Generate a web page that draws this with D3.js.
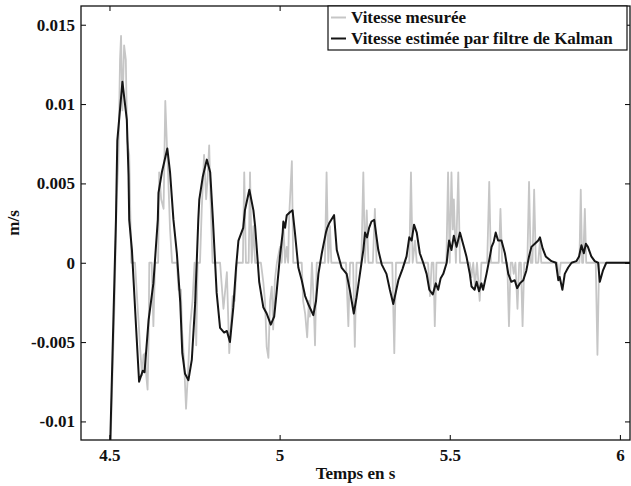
<!DOCTYPE html>
<html>
<head>
<meta charset="utf-8">
<script src="https://cdn.jsdelivr.net/npm/d3@7/dist/d3.min.js"></script>
<style>
  body { margin: 0; background: #fff; }
  text { font-family: "Liberation Serif", "Times New Roman", serif; font-weight: bold; }
</style>
</head>
<body>
<div id="chart"></div>
<script>
const xTicks = [4.5, 5, 5.5, 6];
const xTickLabels = ["4.5", "5", "5.5", "6"];
const yTicks = [0.015, 0.01, 0.005, 0, -0.005, -0.01];
const yTickLabels = ["0.015", "0.01", "0.005", "0", "-0.005", "-0.01"];
const seriesNames = ["Vitesse mesurée", "Vitesse estimée par filtre de Kalman"];

// measured speed [t (s), v (m/s)]
const measured = [
  [4.501,-0.0131],[4.515,-0.0024],[4.521,0.0040],[4.526,0.0063],[4.531,0.0128],[4.534,0.0143],
  [4.538,0.0096],[4.543,0.0137],[4.548,0.0128],[4.552,0.0077],[4.558,0.0068],[4.564,0],
  [4.570,0],[4.575,0],[4.583,-0.0029],[4.587,-0.0042],[4.590,-0.0054],[4.596,-0.0071],
  [4.600,-0.0058],[4.605,-0.0057],[4.608,-0.0071],[4.612,-0.0080],[4.615,-0.0048],[4.617,0],
  [4.624,0],[4.629,-0.0040],[4.634,0],[4.643,0],[4.646,0.0057],[4.652,0.0040],
  [4.659,0.0034],[4.664,0.0102],[4.669,0.0073],[4.672,0.0058],[4.678,0.0021],[4.684,0],
  [4.698,0],[4.703,-0.0017],[4.710,-0.0017],[4.713,-0.0042],[4.719,-0.0061],[4.725,-0.0092],
  [4.731,-0.0068],[4.737,-0.0040],[4.744,-0.0024],[4.750,0],[4.755,-0.0052],[4.759,0],
  [4.766,0],[4.771,0.0033],[4.778,0.0068],[4.784,0.0040],[4.788,0.0052],[4.793,0.0074],
  [4.797,0.0040],[4.803,0],[4.825,0],[4.835,-0.0029],[4.845,-0.0006],[4.852,-0.0057],
  [4.862,-0.0021],[4.868,-0.0024],[4.874,0],[4.892,0],[4.896,0.0057],[4.901,0],
  [4.909,0],[4.913,0.0057],[4.918,0],[4.923,0.0023],[4.928,0],[4.945,0],
  [4.952,-0.0012],[4.957,-0.0024],[4.962,-0.0053],[4.967,-0.0060],[4.972,-0.0024],[4.977,-0.0015],
  [4.981,-0.0042],[4.986,-0.0011],[4.992,0],[5.001,0.0010],[5.006,0],[5.011,0.0025],
  [5.016,0],[5.021,0.0010],[5.025,0],[5.028,0.0029],[5.036,0.0064],[5.040,0],
  [5.065,0],[5.069,-0.0024],[5.075,-0.0032],[5.081,-0.0047],[5.086,-0.0024],[5.089,-0.0034],
  [5.095,0],[5.100,-0.0024],[5.104,-0.0052],[5.109,0],[5.133,0],[5.138,0.0057],
  [5.143,0],[5.148,0.0023],[5.152,0],[5.195,0],[5.202,-0.0040],[5.207,0],
  [5.216,0],[5.221,-0.0053],[5.226,0],[5.240,0],[5.246,0.0057],[5.251,0],
  [5.256,0.0033],[5.261,0],[5.274,0],[5.280,0.0034],[5.285,0],[5.331,0],
  [5.337,-0.0057],[5.342,0],[5.381,0],[5.386,0.0057],[5.391,0],[5.398,0.0014],
  [5.403,0],[5.436,0],[5.442,-0.0021],[5.447,0],[5.452,0],[5.456,-0.0040],
  [5.461,0],[5.490,0],[5.495,0.0057],[5.500,0],[5.505,0.0057],[5.509,0.0021],
  [5.512,0.0040],[5.518,0],[5.525,0.0057],[5.530,0],[5.559,0],[5.564,-0.0009],
  [5.569,0],[5.574,-0.0015],[5.580,0],[5.588,-0.0024],[5.593,0],[5.610,0],
  [5.616,0.0051],[5.621,0],[5.644,0],[5.649,0.0034],[5.654,0],[5.669,0],
  [5.674,-0.0040],[5.679,0],[5.684,0],[5.688,-0.0007],[5.693,0],[5.699,-0.0029],
  [5.704,0],[5.709,0],[5.714,-0.0040],[5.719,0],[5.728,0],[5.733,0.0051],
  [5.738,0],[5.743,0],[5.748,0.0046],[5.753,0],[5.760,0],[5.765,0.0014],
  [5.769,0],[5.816,0],[5.821,-0.0011],[5.826,0],[5.881,0],[5.885,0.0046],
  [5.889,0],[5.892,0],[5.897,0.0034],[5.901,0],[5.929,0],[5.934,-0.0058],
  [5.939,0],[6.030,0]
];

// Kalman estimate [t (s), v (m/s)]
const kalman = [
  [4.501,-0.0124],[4.519,0.0027],[4.523,0.0077],[4.538,0.0114],[4.551,0.0090],[4.556,0.0055],
  [4.558,0.0027],[4.566,0.0008],[4.578,-0.0040],[4.587,-0.0075],[4.598,-0.0068],[4.603,-0.0069],
  [4.615,-0.0036],[4.629,-0.0013],[4.642,0.0027],[4.644,0.0044],[4.654,0.0057],[4.670,0.0072],
  [4.678,0.0057],[4.688,0.0027],[4.698,0.0006],[4.708,-0.0025],[4.714,-0.0057],[4.722,-0.0070],
  [4.732,-0.0074],[4.742,-0.0061],[4.752,-0.0025],[4.761,0.0027],[4.764,0.0040],[4.774,0.0054],
  [4.786,0.0065],[4.796,0.0057],[4.804,0.0027],[4.815,-0.0019],[4.825,-0.0041],[4.837,-0.0044],
  [4.845,-0.0043],[4.854,-0.0050],[4.864,-0.0028],[4.872,-0.0003],[4.879,0.0014],[4.893,0.0022],
  [4.898,0.0033],[4.911,0.0046],[4.923,0.0033],[4.928,0.0023],[4.940,-0.0012],[4.952,-0.0028],
  [4.962,-0.0032],[4.974,-0.0039],[4.984,-0.0034],[4.991,-0.0019],[5.001,0.0004],[5.009,0.0019],
  [5.011,0.0026],[5.016,0.0022],[5.021,0.0030],[5.031,0.0032],[5.038,0.0033],[5.045,0.0019],
  [5.055,-0.0003],[5.065,-0.0011],[5.075,-0.0021],[5.084,-0.0026],[5.099,-0.0033],[5.107,-0.0024],
  [5.114,-0.0007],[5.124,0.0006],[5.136,0.0019],[5.140,0.0022],[5.146,0.0025],[5.160,0.0030],
  [5.168,0.0008],[5.182,-0.0003],[5.197,-0.0007],[5.207,-0.0018],[5.218,-0.0032],[5.226,-0.0022],
  [5.236,-0.0007],[5.246,0.0008],[5.251,0.0019],[5.257,0.0016],[5.263,0.0022],[5.270,0.0026],
  [5.278,0.0027],[5.290,0.0008],[5.300,-0.0001],[5.314,-0.0007],[5.324,-0.0017],[5.334,-0.0026],
  [5.342,-0.0018],[5.349,-0.0011],[5.361,-0.0004],[5.373,0.0004],[5.381,0.0016],[5.388,0.0014],
  [5.395,0.0024],[5.403,0.0019],[5.412,0.0006],[5.422,0.0000],[5.432,-0.0007],[5.440,-0.0017],
  [5.450,-0.0020],[5.459,-0.0013],[5.466,-0.0017],[5.473,-0.0010],[5.481,-0.0007],[5.491,0.0000],
  [5.498,0.0014],[5.505,0.0008],[5.512,0.0017],[5.520,0.0010],[5.530,0.0019],[5.539,0.0012],
  [5.549,0.0004],[5.559,-0.0007],[5.564,-0.0015],[5.573,-0.0017],[5.579,-0.0012],[5.586,-0.0018],
  [5.593,-0.0013],[5.598,-0.0017],[5.608,-0.0007],[5.618,0.0004],[5.623,0.0010],[5.629,0.0013],
  [5.635,0.0019],[5.642,0.0014],[5.652,0.0014],[5.662,0.0006],[5.672,-0.0007],[5.681,-0.0012],
  [5.691,-0.0011],[5.698,-0.0016],[5.706,-0.0013],[5.716,-0.0011],[5.725,-0.0005],[5.733,0.0004],
  [5.740,0.0010],[5.750,0.0012],[5.760,0.0014],[5.765,0.0016],[5.773,0.0009],[5.782,0.0004],
  [5.799,0.0001],[5.812,0.0000],[5.819,-0.0011],[5.823,-0.0009],[5.831,-0.0017],[5.838,-0.0007],
  [5.848,-0.0003],[5.858,0],[5.872,0.0001],[5.880,0.0004],[5.887,0.0011],[5.894,0.0006],
  [5.900,0.0012],[5.906,0.0010],[5.916,0.0004],[5.926,0.0001],[5.936,0.0000],[5.941,-0.0012],
  [5.950,-0.0005],[5.960,0.0000],[5.980,0],[6.030,0]
];

const W = 631, H = 486;
const margin = { top: 6, right: 1, bottom: 46, left: 81 };
const width = W - margin.left - margin.right;
const height = H - margin.top - margin.bottom;

const svg = d3.select("#chart").append("svg")
  .attr("width", W)
  .attr("height", H);

const g = svg.append("g")
  .attr("transform", `translate(${margin.left},${margin.top})`);

const x = d3.scaleLinear().domain([4.4163, 6.0297]).range([0, width]);
const y = d3.scaleLinear().domain([-0.01117, 0.01618]).range([height, 0]);

g.append("clipPath").attr("id", "clip")
  .append("rect").attr("width", width).attr("height", height);

const line = d3.line().x(d => x(d[0])).y(d => y(d[1]));

const plot = g.append("g").attr("clip-path", "url(#clip)");
plot.append("path")
  .datum(measured)
  .attr("fill", "none")
  .attr("stroke", "#c6c6c6")
  .attr("stroke-width", 1.8)
  .attr("stroke-linejoin", "round")
  .attr("d", line);
plot.append("path")
  .datum(kalman)
  .attr("fill", "none")
  .attr("stroke", "#151515")
  .attr("stroke-width", 2)
  .attr("stroke-linejoin", "round")
  .attr("d", line);

// axes, ticks inside on all sides
function styleAxis(sel) {
  sel.select(".domain").remove();
  sel.selectAll(".tick line").attr("stroke", "#000");
  sel.selectAll("text")
    .style("font-size", "17px")
    .attr("fill", "#111");
}

g.append("g")
  .attr("transform", `translate(0,${height})`)
  .call(d3.axisBottom(x).tickValues(xTicks).tickFormat((d, i) => xTickLabels[i]).tickSize(-5).tickPadding(9))
  .call(styleAxis);
g.append("g")
  .call(d3.axisTop(x).tickValues(xTicks).tickFormat("").tickSize(-5))
  .call(styleAxis);
g.append("g")
  .call(d3.axisLeft(y).tickValues(yTicks).tickFormat((d, i) => yTickLabels[i]).tickSize(-5).tickPadding(6))
  .call(styleAxis);
g.append("g")
  .attr("transform", `translate(${width},0)`)
  .call(d3.axisRight(y).tickValues(yTicks).tickFormat("").tickSize(-5))
  .call(styleAxis);

g.append("rect")
  .attr("width", width).attr("height", height)
  .attr("fill", "none").attr("stroke", "#111").attr("stroke-width", 1.3);

// axis titles
svg.append("text")
  .attr("x", margin.left + width / 2)
  .attr("y", H - 7)
  .attr("text-anchor", "middle")
  .style("font-size", "17px")
  .attr("fill", "#111")
  .text("Temps en s");
svg.append("text")
  .attr("transform", `translate(19,${margin.top + height / 2}) rotate(-90)`)
  .attr("text-anchor", "middle")
  .style("font-size", "17px")
  .attr("fill", "#111")
  .text("m/s");

// legend
const legend = svg.append("g").attr("transform", "translate(328,6)");
legend.append("rect")
  .attr("width", 299).attr("height", 44)
  .attr("fill", "#fff").attr("stroke", "#111").attr("stroke-width", 1.2);
const legendColors = ["#c6c6c6", "#151515"];
seriesNames.forEach((name, i) => {
  const ly = 11.5 + i * 21;
  legend.append("line")
    .attr("x1", 3).attr("x2", 18).attr("y1", ly).attr("y2", ly)
    .attr("stroke", legendColors[i]).attr("stroke-width", 2);
  legend.append("text")
    .attr("x", 23).attr("y", ly)
    .attr("dy", "0.35em")
    .style("font-size", "17px")
    .attr("fill", "#111")
    .text(name);
});
</script>
</body>
</html>
